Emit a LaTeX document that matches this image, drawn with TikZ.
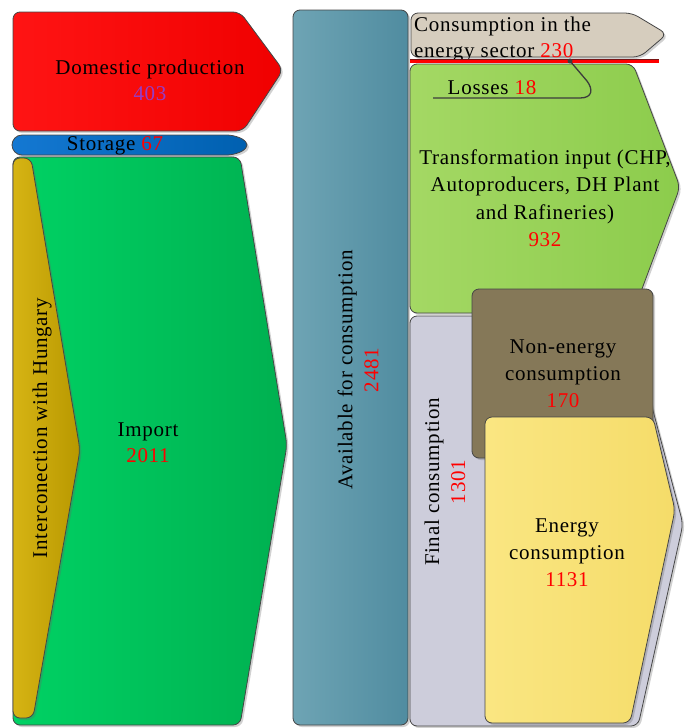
\documentclass[tikz,border=0pt]{standalone}
\usepackage{fontspec}
\setmainfont[LetterSpace=3.5]{Liberation Serif}
\usetikzlibrary{shadows}
\definecolor{edge}{RGB}{70,70,70}
\definecolor{redA}{RGB}{255,20,20}
\definecolor{redB}{RGB}{240,0,0}
\definecolor{numred}{RGB}{255,0,0}
\definecolor{numviolet}{RGB}{150,60,200}
\definecolor{bluA}{RGB}{20,120,210}
\definecolor{bluB}{RGB}{0,96,176}
\definecolor{golA}{RGB}{214,180,20}
\definecolor{golB}{RGB}{184,152,0}
\definecolor{grnA}{RGB}{0,210,100}
\definecolor{grnB}{RGB}{0,176,80}
\definecolor{stlA}{RGB}{110,164,180}
\definecolor{stlB}{RGB}{80,140,160}
\definecolor{beige}{RGB}{214,205,190}
\definecolor{lgrA}{RGB}{164,216,100}
\definecolor{lgrB}{RGB}{140,204,76}
\definecolor{lav}{RGB}{205,205,219}
\definecolor{brown}{RGB}{133,120,88}
\definecolor{yelA}{RGB}{250,230,130}
\definecolor{yelB}{RGB}{245,220,105}
\definecolor{lossline}{RGB}{60,60,60}
\begin{document}
\begin{tikzpicture}[x=1pt,y=-1pt,
  txt/.style={font=\fontsize{21}{26}\selectfont, inner sep=0pt, align=center, text=black},
  sh/.style={drop shadow={shadow xshift=2pt,shadow yshift=-2pt,opacity=0.3,fill=black!60}},
  box/.style={draw=edge, line width=0.8pt, rounded corners=7pt, sh}]
\useasboundingbox (0,0) rectangle (691,728);

% Domestic production
\path[box, left color=redA, right color=redB]
  (13,12) -- (240,12) -- (283,70) -- (243,131) -- (13,131) -- cycle;
% Storage
\path[draw=edge, line width=0.8pt, sh, left color=bluA, right color=bluB]
  (22,135) -- (228,135) .. controls (240,136) and (247,141) .. (247,145)
  .. controls (247,149) and (240,154) .. (228,155) -- (22,155)
  .. controls (16,155) and (12,150) .. (12,145) .. controls (12,140) and (16,135) .. (22,135) -- cycle;
% Import
\path[box, left color=grnA, right color=grnB]
  (13,157) -- (240,157) -- (287,445) -- (240,725) -- (13,725) -- cycle;
% Interconnection
\path[box, left color=golA, right color=golB]
  (13,158) -- (31,158) -- (80,450) -- (33,718) -- (13,718) -- cycle;
% Available
\path[box, left color=stlA, right color=stlB] (293,10) rectangle (408,725);
% Consumption in the energy sector
\path[box, fill=beige]
  (411,13) -- (632,13) -- (667,34) -- (640,57) -- (411,57) -- cycle;
% Transformation input
\path[box, left color=lgrA, right color=lgrB]
  (410,64) -- (633,64) -- (680,187) -- (633,313) -- (410,313) -- cycle;
% Final consumption
\path[box, fill=lav]
  (410,316) -- (628,316) -- (683,524) -- (638,726) -- (410,726) -- cycle;
% Non-energy
\path[box, fill=brown] (472,289) rectangle (653,458);
% Energy consumption
\path[box, left color=yelA, right color=yelB]
  (485,417) -- (653,417) -- (675,510) -- (630,723) -- (485,723) -- cycle;

% texts
\node[txt] (dom) at (150,80) {Domestic production\\{\color{numviolet}403}};
\node[txt] (sto) at (115,146) {Storage {\color{numred}67}};
\node[txt] (imp) at (148,443) {Import\\{\color{numred}2011}};
\node[txt, rotate=90] (inter) at (42,428) {Interconection with Hungary};
\node[txt, rotate=90] (avail) at (358,370) {Available for consumption\\{\color{numred}2481}};
\node[txt, align=left, anchor=west] (cons) at (414,39) {Consumption in the\\energy sector {\color{numred}230}};

% red line and losses
\coordinate (rl) at (410,61);
\coordinate (rr) at (659,61);
\draw[line width=4.5pt, draw={rgb,255:red,120;green,20;blue,20}] (rl) -- (rr);
\draw[line width=3pt, draw=red] (rl) -- (rr);
\coordinate (dot) at (570,61);
\coordinate (lend) at (433,98);
\draw[lossline, line width=1.3pt] (dot) -- (587,81) .. controls (593,89) and (593,98) .. (580,98) -- (lend);
\fill[lossline] (dot) circle (2.5pt);
\node[txt] (loss) at (492,88) {Losses {\color{numred}18}};

\node[txt, font=\fontsize{21}{27.5}\selectfont] (trans) at (545,198) {Transformation input (CHP,\\Autoproducers, DH Plant\\and Rafineries)\\{\color{numred}932}};
\node[txt, rotate=90] (final) at (445,482) {Final consumption\\{\color{numred}1301}};
\node[txt, font=\fontsize{21}{27}\selectfont] (nonen) at (563,374) {Non-energy\\consumption\\{\color{numred}170}};
\node[txt, font=\fontsize{21}{27}\selectfont] (energy) at (567,553) {Energy\\consumption\\{\color{numred}1131}};
\end{tikzpicture}
\end{document}
